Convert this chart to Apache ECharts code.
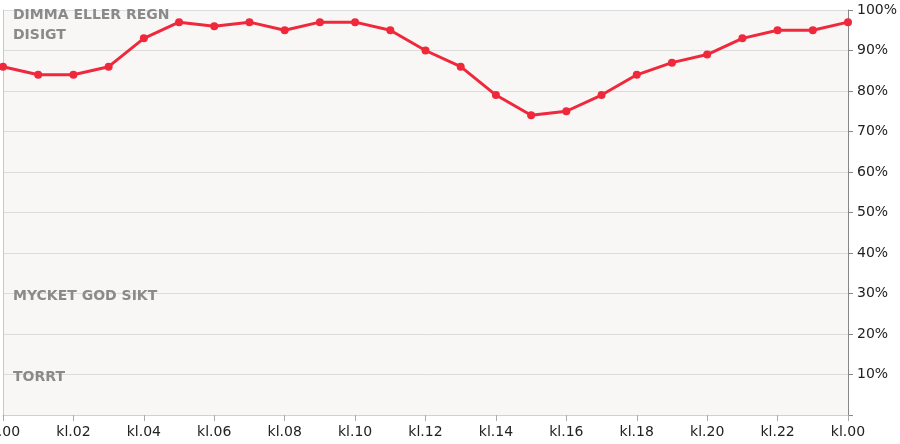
<!DOCTYPE html>
<html><head><meta charset="utf-8">
<script src="https://cdn.jsdelivr.net/npm/echarts@6/dist/echarts.min.js"></script>
<style>html,body{margin:0;padding:0;background:#fff}#c{width:900px;height:444px}</style>
</head><body><div id="c"></div>
<script>
const hours = ['kl.00','kl.01','kl.02','kl.03','kl.04','kl.05','kl.06','kl.07','kl.08','kl.09','kl.10','kl.11','kl.12','kl.13','kl.14','kl.15','kl.16','kl.17','kl.18','kl.19','kl.20','kl.21','kl.22','kl.23','kl.00'];
const humidity = [86,84,84,86,93,97,96,97,95,97,97,95,90,86,79,74,75,79,84,87,89,93,95,95,97];
const zoneLabels = ['DIMMA ELLER REGN','DISIGT','MYCKET GOD SIKT','TORRT'];
const zoneTops = [9,29,290,371];

const chart = echarts.init(document.getElementById('c'), null, {renderer:'canvas'});
const font = 'DejaVu Sans, Verdana, sans-serif';
chart.setOption({
  animation:false,
  grid:{left:3,right:52,top:10,bottom:29,containLabel:false,outerBoundsMode:'none',show:true,backgroundColor:'#f8f7f5',borderWidth:0},
  xAxis:{type:'category',data:hours,boundaryGap:false,
    axisLine:{show:true,lineStyle:{color:'#d0d0d0',width:1}},
    axisTick:{show:true,interval:1,length:6,lineStyle:{color:'#aaa'}},
    axisLabel:{interval:1,color:'#222',fontSize:14,fontFamily:font,margin:10,showMinLabel:true,showMaxLabel:true,hideOverlap:false},
    splitLine:{show:false}},
  yAxis:[{type:'value',position:'right',min:0,max:100,interval:10,
    axisLine:{show:true,lineStyle:{color:'#888'}},
    axisTick:{show:true,length:5,lineStyle:{color:'#888'}},
    axisLabel:{color:'#222',fontSize:14,fontFamily:font,margin:9,
      formatter:v=>v===0?'':v+'%'},
    splitLine:{show:true,lineStyle:{color:'#dcdcdc',width:1}}},
    {type:'value',position:'left',min:0,max:100,interval:10,
    axisLine:{show:true,lineStyle:{color:'#c8c8c8'}},axisTick:{show:false},axisLabel:{show:false},splitLine:{show:false}}],
  graphic: zoneLabels.map((t,i)=>({type:'text',left:13,top:zoneTops[i]-1,z:1,
    style:{text:t,fill:'#8a8a8a',font:'bold 14px '+font}})),
  series:[{type:'line',data:humidity,yAxisIndex:0,smooth:false,
    symbol:'circle',symbolSize:8,showSymbol:true,
    lineStyle:{color:'#f0283c',width:3},itemStyle:{color:'#f0283c'},z:5}]
});
</script></body></html>
